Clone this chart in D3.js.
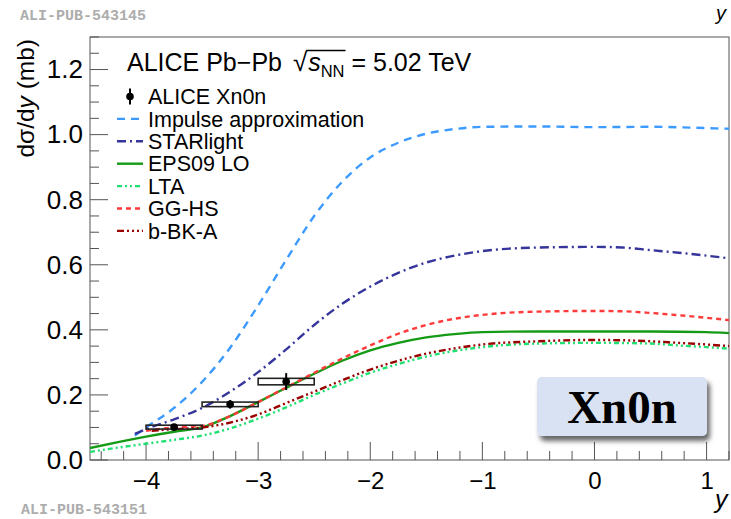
<!DOCTYPE html>
<html><head><meta charset="utf-8">
<script src="https://cdn.jsdelivr.net/npm/d3@7"></script>
<style>
body{margin:0;background:#fff;}
svg{display:block;font-family:"Liberation Sans",Arial,sans-serif;}
</style></head>
<body>
<svg id="c" width="731" height="519"></svg>
<script>
// ---------- data ----------
const xTicks = [-4, -3, -2, -1, 0, 1];
const yTicks = [0, 0.2, 0.4, 0.6, 0.8, 1.0, 1.2];

const dataX = [-3.75, -3.25, -2.75];
const dataY = [0.101, 0.171, 0.241];
const dataXErr = [0.25, 0.25, 0.25];
const dataStatErr = [0.008, 0.013, 0.026];
const dataSysErr = [0.006, 0.007, 0.010];

const impulseX = [-4.1,-4.0,-3.75,-3.5,-3.25,-3.0,-2.75,-2.5,-2.25,-2.0,-1.75,-1.5,-1.25,-1.0,-0.5,0,0.5,1.0,1.2];
const impulseY = [0.075,0.10,0.16,0.24,0.345,0.475,0.615,0.75,0.855,0.93,0.975,1.003,1.017,1.024,1.025,1.023,1.024,1.02,1.018];

const starX = [-4.1,-4.0,-3.75,-3.5,-3.25,-3.0,-2.75,-2.5,-2.25,-2.0,-1.75,-1.5,-1.25,-1.0,-0.5,0,0.25,0.5,0.75,1.0,1.2];
const starY = [0.08,0.095,0.125,0.16,0.21,0.27,0.34,0.415,0.48,0.533,0.575,0.607,0.628,0.642,0.653,0.655,0.653,0.645,0.637,0.628,0.62];

const epsX = [-4.5,-4.25,-4.0,-3.75,-3.5,-3.25,-3.0,-2.75,-2.5,-2.25,-2.0,-1.75,-1.5,-1.25,-1.0,-0.5,0,0.5,1.0,1.2];
const epsY = [0.037,0.055,0.072,0.087,0.10,0.135,0.178,0.222,0.265,0.305,0.337,0.36,0.377,0.387,0.393,0.395,0.395,0.395,0.393,0.39];

const ltaX = [-4.5,-4.25,-4.0,-3.75,-3.5,-3.25,-3.0,-2.75,-2.5,-2.25,-2.0,-1.75,-1.5,-1.25,-1.0,-0.5,0,0.5,0.75,1.0,1.2];
const ltaY = [0.025,0.038,0.05,0.062,0.075,0.097,0.127,0.162,0.2,0.235,0.268,0.295,0.318,0.335,0.347,0.358,0.36,0.358,0.352,0.347,0.342];

const gghsX = [-4.0,-3.75,-3.5,-3.25,-3.0,-2.75,-2.5,-2.25,-2.0,-1.75,-1.5,-1.25,-1.0,-0.5,0,0.25,0.5,0.75,1.0,1.2];
const gghsY = [0.09,0.10,0.105,0.135,0.178,0.223,0.268,0.312,0.352,0.388,0.415,0.434,0.446,0.456,0.458,0.457,0.452,0.445,0.437,0.43];

const bbkX = [-3.95,-3.75,-3.5,-3.25,-3.0,-2.75,-2.5,-2.25,-2.0,-1.75,-1.5,-1.25,-1.0,-0.5,0,0.5,0.75,1.0,1.2];
const bbkY = [0.09,0.095,0.10,0.115,0.14,0.175,0.21,0.245,0.278,0.305,0.327,0.343,0.355,0.365,0.369,0.365,0.36,0.355,0.35];

const models = [
  {name:"Impulse approximation", x:impulseX, y:impulseY, color:"#3d9bff", dash:"8,6"},
  {name:"STARlight", x:starX, y:starY, color:"#35359b", dash:"9,4,2,4"},
  {name:"EPS09 LO", x:epsX, y:epsY, color:"#159a15", dash:null},
  {name:"LTA", x:ltaX, y:ltaY, color:"#1fe070", dash:"5,3,2,3,2,3"},
  {name:"GG-HS", x:gghsX, y:gghsY, color:"#ff3a3a", dash:"5,4"},
  {name:"b-BK-A", x:bbkX, y:bbkY, color:"#9a0000", dash:"7,3,2,3,2,3,2,3"}
];

// ---------- layout ----------
const svg = d3.select("#c");
const L = 90, R = 729, T = 37, B = 460;
const x = d3.scaleLinear().domain([-4.5, 1.2]).range([L, R]);
const y = d3.scaleLinear().domain([0, 1.3]).range([B, T]);

const defs = svg.append("defs");
const clip = defs.append("clipPath").attr("id","pc");
clip.append("rect").attr("x",L).attr("y",T).attr("width",R-L).attr("height",B-T);
const f = defs.append("filter").attr("id","sh").attr("x","-20%").attr("y","-20%").attr("width","150%").attr("height","160%");
f.append("feDropShadow").attr("dx",3).attr("dy",5).attr("stdDeviation",2.5).attr("flood-color","#000").attr("flood-opacity",0.6);

// frame
svg.append("rect").attr("x",L).attr("y",T).attr("width",R-L).attr("height",B-T)
  .attr("fill","none").attr("stroke","#555").attr("stroke-width",1);

// axes ticks
const tickCol = "#555";
const xMinor = d3.range(-4.4, 1.21, 0.2).map(v=>+v.toFixed(2));
svg.append("g").selectAll("line").data(xMinor).join("line")
  .attr("x1",d=>x(d)).attr("x2",d=>x(d)).attr("y1",B).attr("y2",d=>Math.abs(d-Math.round(d))<1e-6?B-18:B-9)
  .attr("stroke",tickCol).attr("stroke-width",1);
const yMinor = d3.range(0, 1.301, 0.05).map(v=>+v.toFixed(2));
svg.append("g").selectAll("line").data(yMinor).join("line")
  .attr("y1",d=>y(d)).attr("y2",d=>y(d)).attr("x1",L).attr("x2",d=>Math.abs(d*5-Math.round(d*5))<1e-6?L+18:L+9)
  .attr("stroke",tickCol).attr("stroke-width",1);

// tick labels via d3 axes (lines hidden)
const xAxis = svg.append("g").attr("transform",`translate(0,${B})`)
  .call(d3.axisBottom(x).tickValues(xTicks).tickSize(0).tickPadding(12)
    .tickFormat(d=> d<0 ? "\u2212"+Math.abs(d) : String(d)));
xAxis.select(".domain").remove();
xAxis.selectAll("text").attr("font-size",24).attr("font-family","Liberation Sans, Arial, sans-serif").attr("fill","#000").attr("dy","0.71em");
const yAxis = svg.append("g").attr("transform",`translate(${L},0)`)
  .call(d3.axisLeft(y).tickValues(yTicks).tickSize(0).tickPadding(7).tickFormat(d3.format(".1f")));
yAxis.select(".domain").remove();
yAxis.selectAll("text").attr("font-size",26).attr("font-family","Liberation Sans, Arial, sans-serif").attr("fill","#000");

// axis titles
const yt = svg.append("text").attr("transform","translate(34,39) rotate(-90)")
  .attr("text-anchor","end").attr("font-size",24.5).attr("fill","#000");
yt.append("tspan").text("d\u03c3/d");
yt.append("tspan").attr("font-style","italic").text("y");
yt.append("tspan").text(" (mb)");
svg.append("text").attr("x",715).attr("y",508).attr("font-size",25).attr("font-style","italic").text("y");
svg.append("text").attr("x",716).attr("y",20).attr("font-size",20).attr("font-style","italic").text("y");

// ALI-PUB labels
svg.append("text").attr("x",20).attr("y",20).attr("font-family","Liberation Mono, Courier New, monospace")
  .attr("font-weight","bold").attr("font-size",15).attr("fill","#adadad").text("ALI-PUB-543145");
svg.append("text").attr("x",21).attr("y",514).attr("font-family","Liberation Mono, Courier New, monospace")
  .attr("font-weight","bold").attr("font-size",15).attr("fill","#adadad").text("ALI-PUB-543151");

// model curves
const plot = svg.append("g").attr("clip-path","url(#pc)");
const line = d3.line().curve(d3.curveMonotoneX);
models.forEach(m=>{
  const pts = m.x.map((v,i)=>[x(v), y(m.y[i])]);
  plot.append("path").attr("d",line(pts)).attr("fill","none")
    .attr("stroke",m.color).attr("stroke-width",2.4)
    .attr("stroke-dasharray",m.dash);
});

// data: sys boxes, error bars, points
const dg = svg.append("g");
dataX.forEach((v,i)=>{
  dg.append("rect").attr("x",x(v-dataXErr[i])).attr("width",x(v+dataXErr[i])-x(v-dataXErr[i]))
    .attr("y",y(dataY[i]+dataSysErr[i])).attr("height",y(dataY[i]-dataSysErr[i])-y(dataY[i]+dataSysErr[i]))
    .attr("fill","none").attr("stroke","#222").attr("stroke-width",1.6);
  dg.append("line").attr("x1",x(v)).attr("x2",x(v)).attr("y1",y(dataY[i]-dataStatErr[i])).attr("y2",y(dataY[i]+dataStatErr[i]))
    .attr("stroke","#000").attr("stroke-width",2);
  dg.append("circle").attr("cx",x(v)).attr("cy",y(dataY[i])).attr("r",3.8).attr("fill","#000");
});

// legend
const lg = svg.append("g");
const hd = lg.append("text").attr("x",127).attr("y",71).attr("font-size",25).attr("fill","#000");
hd.append("tspan").text("ALICE Pb\u2212Pb ");
hd.append("tspan").attr("font-size",26).attr("dx",4).text("\u221a");
hd.append("tspan").attr("font-style","italic").attr("dx",1).text("s");
hd.append("tspan").attr("font-size",16.5).attr("dy",6).text("NN");
hd.append("tspan").attr("dy",-6).text(" = 5.02 TeV");
// overline for sqrt, measured from glyph positions
{
  const n = hd.node();
  const txt = n.textContent;
  const iS = txt.indexOf("\u221a");
  const p0 = n.getEndPositionOfChar(iS);
  const p1 = n.getEndPositionOfChar(iS+3);
  lg.append("line").attr("x1",p0.x-1).attr("x2",p1.x+1).attr("y1",50.5).attr("y2",50.5)
    .attr("stroke","#000").attr("stroke-width",1.3);
}

const rowY0 = 96.5, rowDy = 22.4;
const entries = [{name:"ALICE Xn0n", data:true}].concat(models);
entries.forEach((e,i)=>{
  const cy = rowY0 + i*rowDy;
  if(e.data){
    lg.append("line").attr("x1",130).attr("x2",130).attr("y1",cy-8).attr("y2",cy+8).attr("stroke","#000").attr("stroke-width",2);
    lg.append("circle").attr("cx",130).attr("cy",cy).attr("r",3.8).attr("fill","#000");
  } else {
    lg.append("line").attr("x1",117).attr("x2",143).attr("y1",cy).attr("y2",cy)
      .attr("stroke",e.color).attr("stroke-width",2.4).attr("stroke-dasharray",e.dash);
  }
  lg.append("text").attr("x",148).attr("y",cy).attr("dy","0.36em").attr("font-size",21.5)
    .attr("fill","#000").text(e.name);
});

// Xn0n box
svg.append("rect").attr("x",537).attr("y",377).attr("width",170).attr("height",59).attr("rx",5)
  .attr("fill","#d9e2f3").attr("filter","url(#sh)");
svg.append("text").attr("x",622).attr("y",423).attr("text-anchor","middle")
  .attr("font-family","Liberation Serif, Times New Roman, serif").attr("font-weight","bold").attr("font-size",47)
  .attr("fill","#000").text("Xn0n");
</script>
</body></html>
